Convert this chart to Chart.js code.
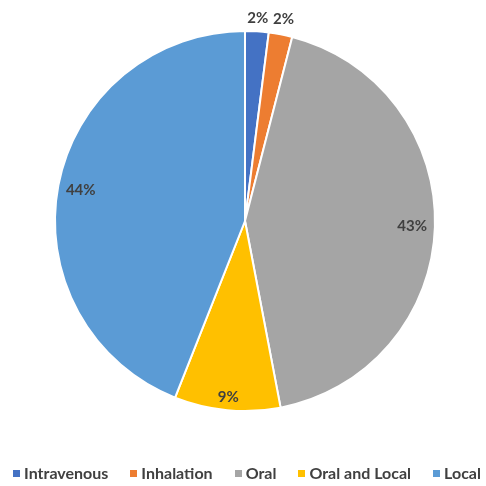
<!DOCTYPE html>
<html><head><meta charset="utf-8">
<script src="https://cdn.jsdelivr.net/npm/chart.js@4"></script>
<style>
html,body{margin:0;padding:0;background:#fff}
#wrap{width:486px;height:486px;position:relative;overflow:hidden}
#legend{position:absolute;left:4px;top:462px;width:486px;display:flex;justify-content:center;align-items:center;font-family:Lato;font-weight:bold;font-size:16px;color:#404040;line-height:22px;white-space:nowrap}
#legend .item{display:flex;align-items:center;margin:0 11px}
#legend .box{width:7px;height:7px;margin-right:4px;display:inline-block}
</style>
</head><body><div id="wrap"><canvas id="c" width="486" height="486"></canvas><div id="legend"></div></div>
<script>
const categories = ["Intravenous", "Inhalation", "Oral", "Oral and Local", "Local"];
const values = [2, 2, 43, 9, 44];
const colors = ["#4472C4", "#ED7D31", "#A5A5A5", "#FFC000", "#5B9BD5"];
// label radius factor per slice (>1 = outside)
const labelRadius = [1.07, 1.08, 0.88, 0.93, 0.88];

const labelPlugin = {
  id: 'sliceLabels',
  afterDatasetsDraw(chart) {
    const ctx = chart.ctx;
    const meta = chart.getDatasetMeta(0);
    ctx.save();
    ctx.font = 'bold 15px Lato';
    ctx.fillStyle = '#404040';
    ctx.textAlign = 'center';
    ctx.textBaseline = 'middle';
    meta.data.forEach((arc, i) => {
      const p = arc.getProps(['x','y','startAngle','endAngle','outerRadius'], true);
      const a = (p.startAngle + p.endAngle) / 2;
      const r = p.outerRadius * labelRadius[i];
      ctx.fillText(values[i] + '%', p.x + Math.cos(a) * r, p.y + Math.sin(a) * r);
    });
    ctx.restore();
  }
};

const chart = new Chart(document.getElementById('c'), {
  type: 'pie',
  data: {
    labels: categories,
    datasets: [{ data: values, backgroundColor: colors, borderColor: '#ffffff', borderWidth: 2 }]
  },
  options: {
    responsive: false,
    animation: false,
    radius: 190,
    layout: { padding: { top: 0, bottom: 44, left: 4, right: 0 } },
    plugins: {
      tooltip: { enabled: false },
      legend: { display: false }
    }
  },
  plugins: [labelPlugin]
});

const legendEl = document.getElementById('legend');
chart.data.labels.forEach((lab, i) => {
  const it = document.createElement('span');
  it.className = 'item';
  const b = document.createElement('span');
  b.className = 'box';
  b.style.background = chart.data.datasets[0].backgroundColor[i];
  const t = document.createElement('span');
  t.textContent = lab;
  it.appendChild(b); it.appendChild(t);
  legendEl.appendChild(it);
});
</script></body></html>
